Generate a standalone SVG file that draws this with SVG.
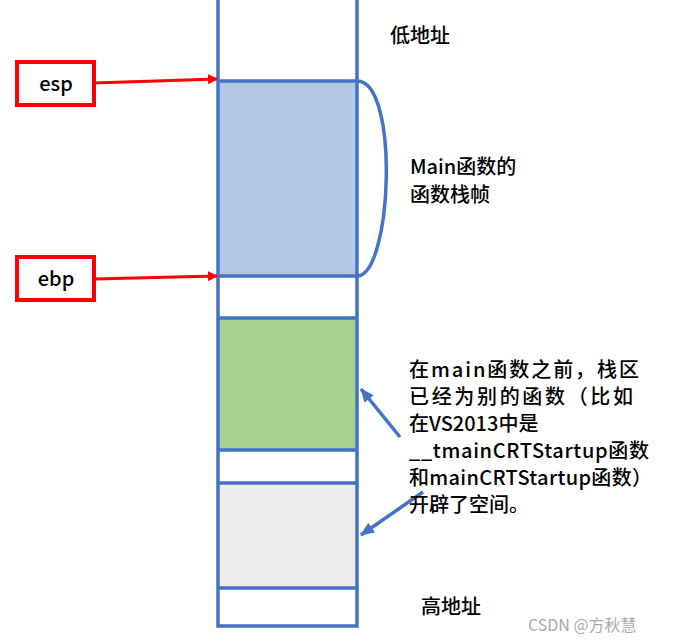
<svg xmlns="http://www.w3.org/2000/svg" width="676" height="642" viewBox="0 0 676 642">
<style>
.t{font-family:"Noto Sans CJK SC","Liberation Sans",sans-serif;font-size:20px;font-weight:500;fill:#000}
.col{stroke:#4472C4;stroke-width:3.5;fill:none}
.red{stroke:#FF0000;stroke-width:4;fill:#fff}
</style>
<defs>
<marker id="ra" markerWidth="10" markerHeight="10" refX="9" refY="5" orient="auto" markerUnits="userSpaceOnUse" viewBox="0 0 10 10"><path d="M0,0L10,5L0,10z" fill="#FF0000"/></marker>
<marker id="ba" markerWidth="14" markerHeight="12" refX="13" refY="6" orient="auto" markerUnits="userSpaceOnUse"><path d="M0,0L14,6L0,12z" fill="#4472C4"/></marker>
</defs>
<rect width="676" height="642" fill="#fff"/>
<g id="stack">
<rect x="218" y="81" width="139" height="195" fill="#B4C7E7"/>
<rect x="218" y="318" width="139" height="132" fill="#A9D18E"/>
<rect x="218" y="483" width="139" height="105" fill="#EDEDED"/>
<path class="col" d="M218,0V626H357V0M218,81H357M218,276H357M218,318H357M218,450H357M218,483H357M218,588H357"/>
<path class="col" d="M357,81C400,81 392,276 357,276"/>
</g>
<g id="esp"><rect class="red" x="17" y="62" width="77" height="43"/><text class="t" x="56" y="91" text-anchor="middle">esp</text></g>
<g id="ebp"><rect class="red" x="17" y="257" width="77" height="43"/><text class="t" x="56" y="286" text-anchor="middle">ebp</text></g>
<g id="connectors">
<line x1="94" y1="83" x2="217" y2="79" stroke="#FF0000" stroke-width="3" marker-end="url(#ra)"/>
<line x1="94" y1="279" x2="217" y2="276" stroke="#FF0000" stroke-width="3" marker-end="url(#ra)"/>
<line x1="400" y1="437" x2="361" y2="389" stroke="#4472C4" stroke-width="3.5" marker-end="url(#ba)"/>
<line x1="423" y1="492" x2="361" y2="535" stroke="#4472C4" stroke-width="3.5" marker-end="url(#ba)"/>
</g>
<g id="labels">
<text class="t" x="390" y="43">低地址</text>
<text class="t" x="410" y="174">Main函数的</text>
<text class="t" x="410" y="202">函数栈帧</text>
<text class="t" x="409" y="377" textLength="230">在main函数之前，栈区</text>
<text class="t" x="409" y="404" textLength="224">已经为别的函数（比如</text>
<text class="t" x="409" y="431">在VS2013中是</text>
<text class="t" x="409" y="458" textLength="240">__tmainCRTStartup函数</text>
<text class="t" x="409" y="485" textLength="243">和mainCRTStartup函数）</text>
<text class="t" x="409" y="512">开辟了空间。</text>
<text class="t" x="421" y="614">高地址</text>
<text x="528" y="631" style="font-family:'Noto Sans CJK SC',sans-serif;font-size:16px;fill:#aaa">CSDN @方秋慧</text>
</g>
</svg>
